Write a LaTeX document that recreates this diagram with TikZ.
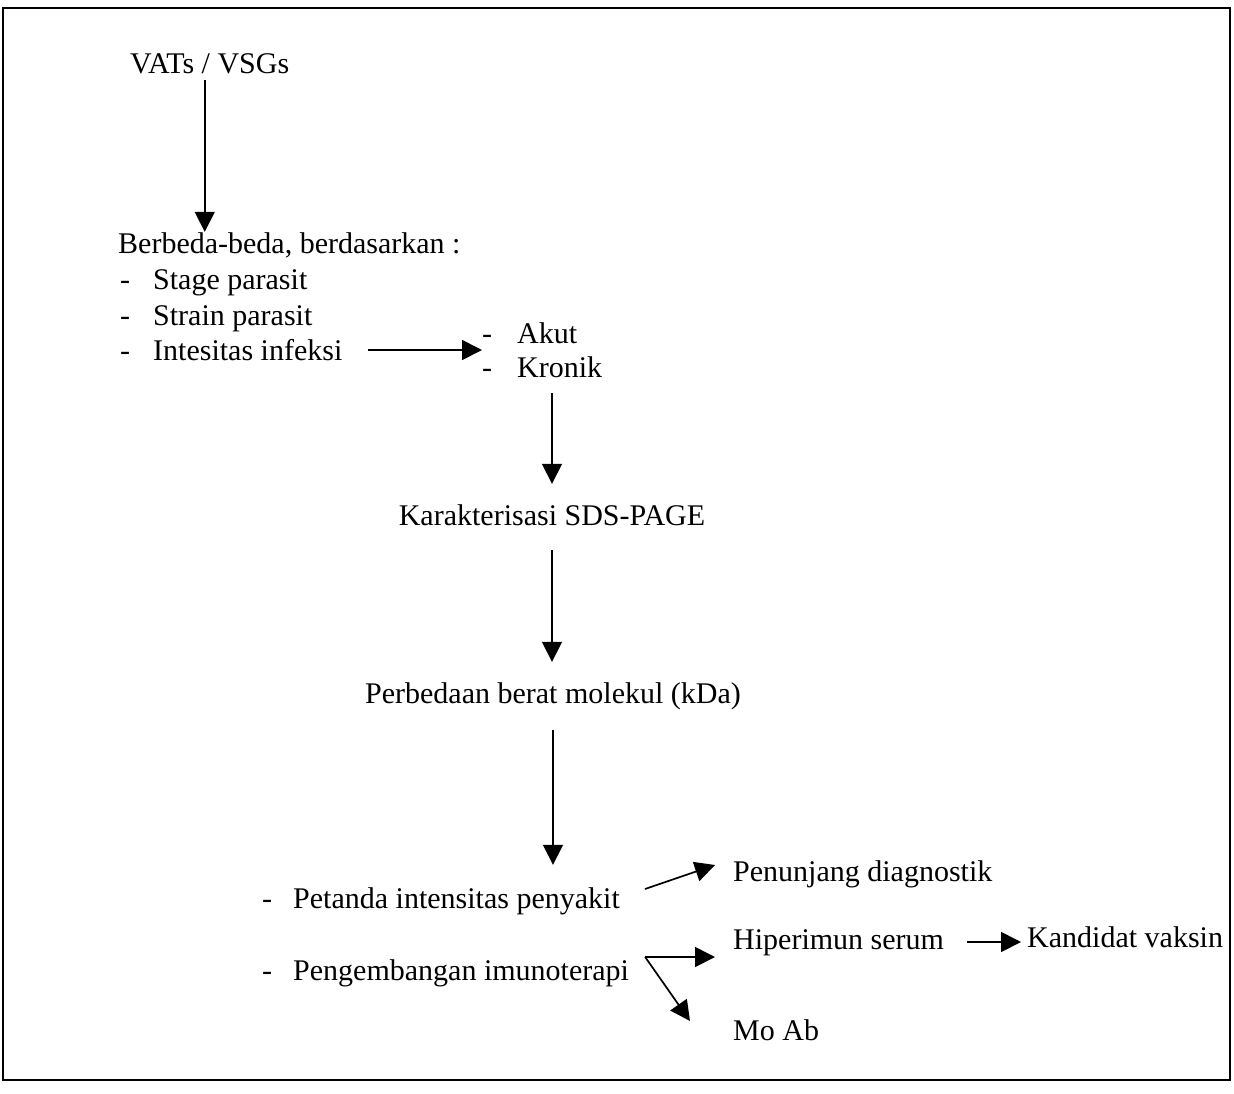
\documentclass[tikz,border=0pt]{standalone}
\usepackage{fontspec}
\setmainfont{Liberation Serif}
\usetikzlibrary{arrows.meta, positioning, calc}

\begin{document}
\begin{tikzpicture}[x=1pt, y=-1pt,
  txt/.style={inner sep=0pt, anchor=base west, text height=21pt, text depth=7pt,
    font=\fontsize{30}{36}\selectfont},
  flow/.style={line width=1.7pt, -{Triangle[length=20pt,width=20pt]}}]
% Frame
\useasboundingbox (0,0) rectangle (1234,1093);
\draw[line width=1.8pt] (3,8) rectangle (1230,1080);
% Top part
\node[txt] (vats) at (130,73) {VATs / VSGs};
\node[txt] (berbeda) at (118,253) {Berbeda-beda, berdasarkan :};
\node[txt] (d1) at (120,289) {-};
\node[txt] (stage) at (153,289) {Stage parasit};
\node[txt] (d2) at (120,325) {-};
\node[txt] (strain) at (153,325) {Strain parasit};
\node[txt] (d3) at (120,360) {-};
\node[txt] (intens) at (153,360) {Intesitas infeksi};
\node[txt] (d4) at (482,343) {-};
\node[txt] (akut) at (517,343) {Akut};
\node[txt] (d5) at (482,377) {-};
\node[txt] (kronik) at (517,377) {Kronik};
% Middle part
\node[txt, anchor=base] (kar) at (552,525) {Karakterisasi SDS-PAGE};
\node[txt, anchor=base] (perb) at (553,703) {Perbedaan berat molekul (kDa)};
% Bottom part
\node[txt] (d6) at (262,908) {-};
\node[txt] (petanda) at (293,908) {Petanda intensitas penyakit};
\node[txt] (d7) at (262,980) {-};
\node[txt] (peng) at (293,980) {Pengembangan imunoterapi};
\node[txt] (penunjang) at (733,881) {Penunjang diagnostik};
\node[txt] (hiper) at (733,949) {Hiperimun serum};
\node[txt] (kandidat) at (1027,947) {Kandidat vaksin};
\node[txt] (moab) at (733,1040) {Mo Ab};
% Arrows
\draw[flow] ([xshift=-5pt]vats.south) -- ([xshift=-5pt]vats.south |- berbeda.north);
\draw[flow] ([xshift=25pt,yshift=3pt]intens.east) -- ($(d4.west)!0.5!(d5.west)+(0,-3)$);
\draw[flow] ($(kar.north |- kronik.south)+(0,9)$) -- ($(kar.north)+(0,-20)$);
\draw[flow] ($(kar.south)+(0,18)$) -- ($(kar.south |- perb.north)+(0,-20)$);
\draw[flow] ($(perb.south)+(0,20)$) -- ($(perb.south |- petanda.north)+(0,-22)$);
\draw[flow] ($(petanda.east)+(25,-12)$) -- ($(penunjang.west)+(-18,-9)$);
\coordinate (fork) at ($(peng.east)+(16,-16)$);
\draw[flow] (fork) -- ($(fork -| hiper.west)+(-18,0)$);
\draw[flow] (fork) -- ($(moab.west)+(-43,-12)$);
\draw[flow] ($(hiper.east)+(23,0)$) -- ($(hiper.east -| kandidat.west)+(-6,0)$);
\end{tikzpicture}
\end{document}
